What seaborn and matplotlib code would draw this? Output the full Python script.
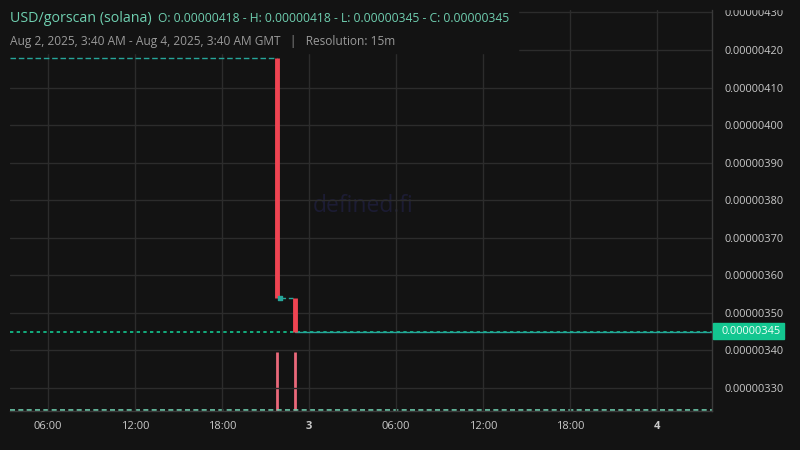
import matplotlib
matplotlib.use("Agg")
import matplotlib.pyplot as plt
import seaborn as sns
import pandas as pd

# hours since Aug 2 2025 00:00 GMT, prices in USD (15m candles)
flat_start = [3.38, 22.0, 23.03]
flat_end = [21.79, 22.9, 51.79]
flat_price = [0.00000418, 0.00000354, 0.00000345]

red_time = [21.79, 23.03]
red_open = [0.00000418, 0.00000354]
red_close = [0.00000354, 0.00000345]

doji_time = [22.0]
doji_price = [0.00000354]

vol_time = [21.79, 23.03]
vol_value = [1.0, 1.0]

last_price = 0.00000345
price_ticks = [0.00000330, 0.00000340, 0.00000350, 0.00000360, 0.00000370,
               0.00000380, 0.00000390, 0.00000400, 0.00000410, 0.00000420, 0.00000430]
time_ticks = [6, 12, 18, 24, 30, 36, 42, 48]
time_labels = ['06:00', '12:00', '18:00', '3', '06:00', '12:00', '18:00', '4']

BG = '#131313'
GRID = '#2c2c2c'
TEAL = '#26a69a'
RED = '#ef4452'
PINK = '#e9687a'
GREEN = '#13c690'
TXT = '#c9c9c9'

sns.set_theme(style='dark')
plt.rcParams['font.family'] = ['Open Sans', 'DejaVu Sans']

fig = plt.figure(figsize=(8, 4.5), dpi=100, facecolor=BG)
W, H = 800, 450
ax = fig.add_axes([10 / W, (H - 411) / H, 702 / W, 401 / H])
ax.set_facecolor(BG)

# volume overlay
axv = ax.twinx()
axv.set_ylim(0, max(vol_value) * 401 / 59)
axv.vlines(vol_time, 0, vol_value, color=PINK, lw=2)
axv.axhline(0.02, color='#6fcfb0', lw=1.2, ls=(0, (3, 2)))
axv.set_yticks([])
for s in axv.spines.values():
    s.set_visible(False)

ax.set_zorder(axv.get_zorder() + 1)
ax.patch.set_visible(False)
axv.patch.set_visible(True)
axv.patch.set_facecolor(BG)

# flat candles as dashed segments
for x0, x1, p in zip(flat_start, flat_end, flat_price):
    seg = pd.DataFrame({'t': [x0, x1], 'p': [p, p]})
    sns.lineplot(data=seg, x='t', y='p', ax=ax, color=TEAL, lw=1,
                 linestyle=(0, (4, 2)) if x1 - x0 < 25 else '-')

ax.axhline(last_price, color=GREEN, lw=1.2, ls=(0, (2, 2)), zorder=1)
ax.vlines(red_time, red_close, red_open, color=RED, lw=3.5, zorder=3)
ax.scatter(doji_time, doji_price, marker='s', s=10, color=TEAL, zorder=3)

ax.set_xlim(3.38, 51.79)
ax.set_ylim(0.0000032388, 0.0000043065)
ax.set_xlabel('')
ax.set_ylabel('')

ax.yaxis.tick_right()
ax.set_yticks(price_ticks)
ax.set_yticklabels([f'{v:.8f}' for v in price_ticks])
ax.set_xticks(time_ticks)
ax.set_xticklabels(time_labels)
for lab in ax.get_xticklabels():
    if ':' not in lab.get_text():
        lab.set_fontweight('bold')
ax.tick_params(axis='y', colors=TXT, labelsize=7.9, length=0, pad=9)
ax.tick_params(axis='x', colors=TXT, labelsize=8, length=0, pad=7)
ax.grid(True, color=GRID, lw=1)
for s in ['top', 'left']:
    ax.spines[s].set_visible(False)
for s in ['right', 'bottom']:
    ax.spines[s].set_color('#3a3a3a')
    ax.spines[s].set_linewidth(1)

# watermark
ax.text(0.503, 0.51, 'defined.fi', transform=ax.transAxes, ha='center', va='center',
        fontsize=16.5, color='#1c1c34', zorder=0)

# last price box
fig.patches.append(plt.Rectangle((713 / W, (H - 339) / H), 71 / W, 16 / H,
                                 transform=fig.transFigure, color=GREEN, zorder=5))
fig.text(722 / W, (H - 331) / H, f'{last_price:.8f}', color='#f0fff8', fontsize=7.9,
         va='center', ha='left', zorder=6)

# clip the top price label like the reference
fig.patches.append(plt.Rectangle((713 / W, (H - 9) / H), 87 / W, 9 / H,
                                 transform=fig.transFigure, color=BG, zorder=5))

# header box
fig.patches.append(plt.Rectangle((0, (H - 53) / H), 518 / W, 53 / H,
                                 transform=fig.transFigure, color=BG, zorder=4))
fig.text(10 / W, (H - 19) / H, 'USD/gorscan (solana)', color='#6fcfb0', fontsize=10.3,
         va='center', ha='left', zorder=6)
fig.text(158 / W, (H - 19) / H,
         'O: 0.00000418 - H: 0.00000418 - L: 0.00000345 - C: 0.00000345',
         color='#6fcfb0', fontsize=8.7, va='center', ha='left', zorder=6)
fig.text(10 / W, (H - 41) / H,
         'Aug 2, 2025, 3:40 AM - Aug 4, 2025, 3:40 AM GMT   |   Resolution: 15m',
         color='#9a9a9a', fontsize=8.6, va='center', ha='left', zorder=6)

fig.savefig('out.png', dpi=100, facecolor=BG)
